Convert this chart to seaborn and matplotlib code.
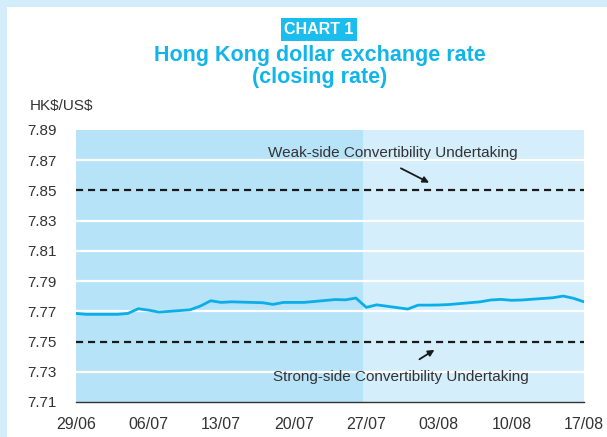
import pandas as pd
import seaborn as sns
import matplotlib.pyplot as plt
import matplotlib.dates as mdates
from matplotlib.patches import Rectangle

# Business-day closing rates
dates = ["2006-06-29", "2006-06-30", "2006-07-03", "2006-07-04", "2006-07-05",
         "2006-07-06", "2006-07-07", "2006-07-10", "2006-07-11", "2006-07-12",
         "2006-07-13", "2006-07-14", "2006-07-17", "2006-07-18", "2006-07-19",
         "2006-07-20", "2006-07-21", "2006-07-24", "2006-07-25", "2006-07-26",
         "2006-07-27", "2006-07-28", "2006-07-31", "2006-08-01", "2006-08-02",
         "2006-08-03", "2006-08-04", "2006-08-07", "2006-08-08", "2006-08-09",
         "2006-08-10", "2006-08-11", "2006-08-14", "2006-08-15", "2006-08-16",
         "2006-08-17"]
rates = [7.7686, 7.7680, 7.7680, 7.7686, 7.7717,
         7.7708, 7.7695, 7.7710, 7.7735, 7.7770,
         7.7759, 7.7763, 7.7757, 7.7746, 7.7759,
         7.7759, 7.7759, 7.7778, 7.7776, 7.7788,
         7.7726, 7.7743, 7.7715, 7.7741, 7.7741,
         7.7742, 7.7745, 7.7763, 7.7775, 7.7779,
         7.7773, 7.7775, 7.7790, 7.7801, 7.7786,
         7.7763]

weak_side = 7.85
strong_side = 7.75
y_ticks = [7.71, 7.73, 7.75, 7.77, 7.79, 7.81, 7.83, 7.85, 7.87, 7.89]
x_ticks = ["2006-06-29", "2006-07-06", "2006-07-13", "2006-07-20",
           "2006-07-27", "2006-08-03", "2006-08-10", "2006-08-17"]
shade_split = "2006-07-26 17:00"

df = pd.DataFrame({"date": pd.to_datetime(dates), "rate": rates})

sns.set_style("white")
plt.rcParams["font.family"] = ["Liberation Sans", "DejaVu Sans"]

frame_col = "#d4edfa"
dark_shade = "#b7e3f8"
light_shade = "#d5eefb"
line_col = "#0aaee8"
title_col = "#12b5ea"
text_col = "#333333"

W, H = 607, 437
fig = plt.figure(figsize=(W / 100, H / 100), dpi=100)
fig.patch.set_facecolor(frame_col)
fig.add_artist(Rectangle((7 / W, 0), 1, 1 - 7 / H, transform=fig.transFigure,
                         facecolor="white", edgecolor="none", zorder=-10))

ax = fig.add_axes([76 / W, 1 - 402 / H, (584 - 76) / W, (402 - 130) / H])

x0 = pd.Timestamp(x_ticks[0])
x1 = pd.Timestamp(x_ticks[-1])
xs = pd.Timestamp(shade_split)
ax.axvspan(x0, xs, color=dark_shade, zorder=0, lw=0)
ax.axvspan(xs, x1, color=light_shade, zorder=0, lw=0)

for yv in y_ticks[1:-1]:
    if yv in (weak_side, strong_side):
        ax.axhline(yv, color="#1a1a1a", lw=1.6, ls=(0, (3.2, 2.2)), zorder=2)
    else:
        ax.axhline(yv, color="white", lw=1.6, zorder=1)

sns.lineplot(data=df, x="date", y="rate", color=line_col, lw=2, ax=ax, zorder=3)

ax.set_xlim(x0, x1)
ax.set_ylim(7.71, 7.89)
ax.set_yticks(y_ticks)
ax.set_yticklabels([f"{v:.2f}" for v in y_ticks])
ax.set_xticks(pd.to_datetime(x_ticks))
ax.xaxis.set_major_formatter(mdates.DateFormatter("%d/%m"))
ax.tick_params(axis="y", length=0, pad=14, labelsize=11, labelcolor=text_col)
ax.tick_params(axis="x", direction="in", length=8, width=1, color="#333333",
               pad=11, labelsize=11.5, labelcolor=text_col)
ax.set_xlabel("")
ax.set_ylabel("")
for s in ["top", "right", "left"]:
    ax.spines[s].set_visible(False)
ax.spines["bottom"].set_color("#333333")
ax.spines["bottom"].set_linewidth(1)

day = pd.Timedelta(days=1)
ax.text(x0 + 18.5 * day, 7.8748, "Weak-side Convertibility Undertaking",
        fontsize=11, color=text_col, va="center", ha="left", zorder=4)
ax.annotate("", xy=(x0 + 34.3 * day, 7.8543), xytext=(x0 + 31.1 * day, 7.8655),
            arrowprops=dict(arrowstyle="-|>", color="#1a1a1a", lw=1.3,
                            mutation_scale=9), zorder=4)
ax.text(x0 + 19.0 * day, 7.7267, "Strong-side Convertibility Undertaking",
        fontsize=11, color=text_col, va="center", ha="left", zorder=4)
ax.annotate("", xy=(x0 + 34.8 * day, 7.7455), xytext=(x0 + 32.9 * day, 7.7373),
            arrowprops=dict(arrowstyle="-|>", color="#1a1a1a", lw=1.3,
                            mutation_scale=9), zorder=4)

fig.text(30 / W, 1 - 106 / H, "HK\\$/US\\$", fontsize=11, color=text_col,
         ha="left", va="center")

fig.text(319 / W, 1 - 29.5 / H, "CHART 1", fontsize=11.5, fontweight="bold",
         color="white", ha="center", va="center",
         bbox=dict(boxstyle="square,pad=0.22", facecolor="#1bbdee", edgecolor="none"))
fig.text(320 / W, 1 - 55 / H, "Hong Kong dollar exchange rate", fontsize=15.5,
         fontweight="bold", color=title_col, ha="center", va="center")
fig.text(320 / W, 1 - 77 / H, "(closing rate)", fontsize=15.5,
         fontweight="bold", color=title_col, ha="center", va="center")

fig.savefig("out.png", dpi=100, facecolor=fig.get_facecolor())
